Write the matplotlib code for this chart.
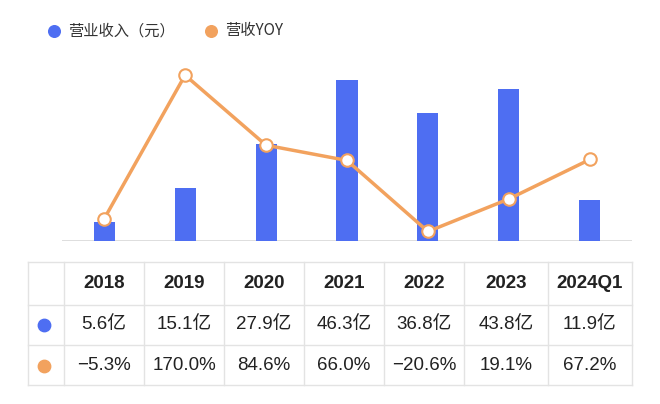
import matplotlib
matplotlib.use("Agg")
import matplotlib.pyplot as plt
import numpy as np

plt.rcParams['font.family'] = ['Noto Sans CJK SC', 'DejaVu Sans']

BLUE = "#4E6EF2"; ORANGE = "#F2A25E"; GRID = "#E3E3E3"; DARK = "#222222"
TFONT = ['Liberation Sans', 'Noto Sans CJK SC']

years = ["2018", "2019", "2020", "2021", "2022", "2023", "2024Q1"]
revenue = [5.6, 15.1, 27.9, 46.3, 36.8, 43.8, 11.9]
yoy = [-5.3, 170.0, 84.6, 66.0, -20.6, 19.1, 67.2]
rev_labels = ["5.6亿", "15.1亿", "27.9亿", "46.3亿", "36.8亿", "43.8亿", "11.9亿"]
yoy_labels = ["\u22125.3%", "170.0%", "84.6%", "66.0%", "\u221220.6%", "19.1%", "67.2%"]

W, H = 660, 404
fig = plt.figure(figsize=(6.6, 4.04), dpi=100, facecolor="white")

ax = fig.add_axes([62 / W, 1 - 241 / H, 570 / W, 191 / H])
x = np.arange(len(years))
ax.bar(x, revenue, width=0.26, color=BLUE, zorder=2)
ax.set_xlim(-0.52, 6.52); ax.set_ylim(0, 54.9)
ax.axis("off")
ax.axhline(0, color="#D8D8D8", lw=1.2, zorder=1)
ax2 = ax.twinx()
ax2.plot(x, yoy, color=ORANGE, lw=2.5, marker="o", ms=9, mfc="white", mec=ORANGE, mew=1.5, zorder=3)
ax2.set_ylim(-32.2, 200.7); ax2.axis("off")

# legend
lg = fig.add_axes([0, 0, 1, 1]); lg.set_xlim(0, W); lg.set_ylim(H, 0); lg.axis("off")
lg.scatter([54], [31], s=70, color=BLUE)
lg.text(68, 31, "营业收入（元）", fontsize=11, va="center", color="#333333")
lg.scatter([211], [31], s=70, color=ORANGE)
lg.text(225, 31, "营收YOY", fontsize=11, va="center", color="#333333")

# table
rows_y = [262, 305, 345, 385]
cols_x = [28, 64, 144, 224, 304, 384, 464, 548, 632]
for yy in rows_y:
    lg.plot([28, 632], [yy, yy], color=GRID, lw=1)
for xx in cols_x:
    lg.plot([xx, xx], [rows_y[0], rows_y[-1]], color=GRID, lw=1)
for i in range(len(years)):
    cx = (cols_x[i + 1] + cols_x[i + 2]) / 2
    lg.text(cx, 284, years[i], ha="center", va="center", fontsize=13.5, fontweight="bold", color=DARK, family=TFONT)
    lg.text(cx, 325, rev_labels[i], ha="center", va="center", fontsize=13.5, color=DARK, family=TFONT)
    lg.text(cx, 366, yoy_labels[i], ha="center", va="center", fontsize=13.5, color=DARK, family=TFONT)
lg.scatter([44], [325], s=80, color=BLUE)
lg.scatter([44], [366], s=80, color=ORANGE)

fig.savefig("out.png", dpi=100, facecolor="white")
